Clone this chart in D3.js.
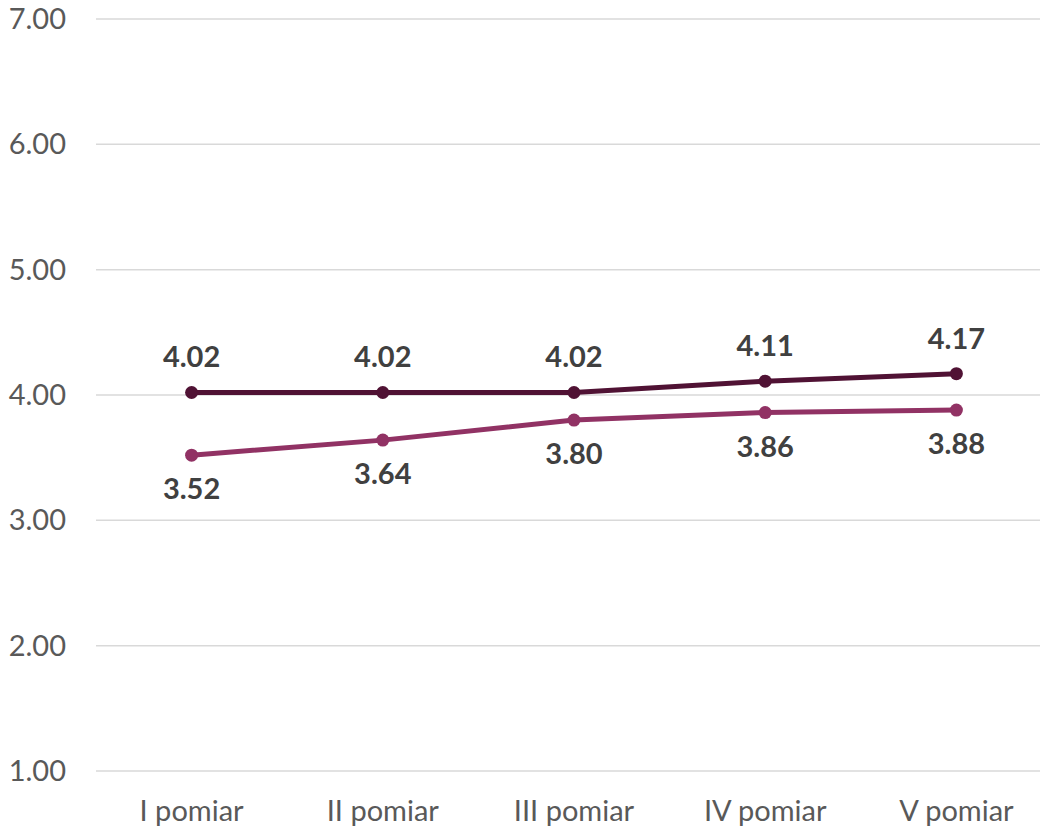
<!DOCTYPE html>
<html>
<head>
<meta charset="utf-8">
<script src="https://cdn.jsdelivr.net/npm/d3@7"></script>
<style>
  html, body { margin: 0; padding: 0; background: #fff; }
  svg text { font-family: "Gill Sans", "Gill Sans MT", Lato, sans-serif; }
</style>
</head>
<body>
<svg id="chart" width="1040" height="829"></svg>
<script>
// measurements per series
const categories = ["I pomiar", "II pomiar", "III pomiar", "IV pomiar", "V pomiar"];
const seriesDark = [4.02, 4.02, 4.02, 4.11, 4.17];
const seriesLight = [3.52, 3.64, 3.80, 3.86, 3.88];
const yTicks = [1, 2, 3, 4, 5, 6, 7];

const margin = { top: 19, right: 0, bottom: 58, left: 96 };
const width = 1040;
const height = 829;

const svg = d3.select("#chart");

const x = d3.scaleBand()
    .domain(categories)
    .range([margin.left, 1052]);

const y = d3.scaleLinear()
    .domain([1, 7])
    .range([771, margin.top]);

// gridlines
svg.append("g")
    .selectAll("line")
    .data(yTicks)
    .enter()
    .append("line")
    .attr("x1", margin.left)
    .attr("x2", 1052)
    .attr("y1", d => y(d))
    .attr("y2", d => y(d))
    .attr("stroke", "#d9d9d9")
    .attr("stroke-width", 1.5);

// y axis labels
svg.append("g")
    .selectAll("text")
    .data(yTicks)
    .enter()
    .append("text")
    .attr("x", 66)
    .attr("y", d => y(d))
    .attr("dy", "0.35em")
    .attr("text-anchor", "end")
    .attr("fill", "#595959")
    .style("font-size", "29px")
    .text(d => d3.format(".2f")(d));

// x axis labels
svg.append("g")
    .selectAll("text")
    .data(categories)
    .enter()
    .append("text")
    .attr("x", d => x(d) + x.bandwidth() / 2)
    .attr("y", 821)
    .attr("text-anchor", "middle")
    .attr("fill", "#595959")
    .style("font-size", "29px")
    .text(d => d);

const line = d3.line()
    .x((d, i) => x(categories[i]) + x.bandwidth() / 2)
    .y(d => y(d));

function drawSeries(data, color, labelDy) {
    const g = svg.append("g");
    g.append("path")
        .datum(data)
        .attr("fill", "none")
        .attr("stroke", color)
        .attr("stroke-width", 5)
        .attr("stroke-linejoin", "round")
        .attr("d", line);

    g.selectAll("circle")
        .data(data)
        .enter()
        .append("circle")
        .attr("cx", (d, i) => x(categories[i]) + x.bandwidth() / 2)
        .attr("cy", d => y(d))
        .attr("r", 6.5)
        .attr("fill", color);

    g.selectAll("text")
        .data(data)
        .enter()
        .append("text")
        .attr("x", (d, i) => x(categories[i]) + x.bandwidth() / 2)
        .attr("y", d => y(d) + labelDy)
        .attr("text-anchor", "middle")
        .attr("fill", "#404040")
        .style("font-size", "29px")
        .style("font-weight", "bold")
        .text(d => d3.format(".2f")(d));
}

drawSeries(seriesLight, "#913264", 44);
drawSeries(seriesDark, "#501234", -25);
</script>
</body>
</html>
